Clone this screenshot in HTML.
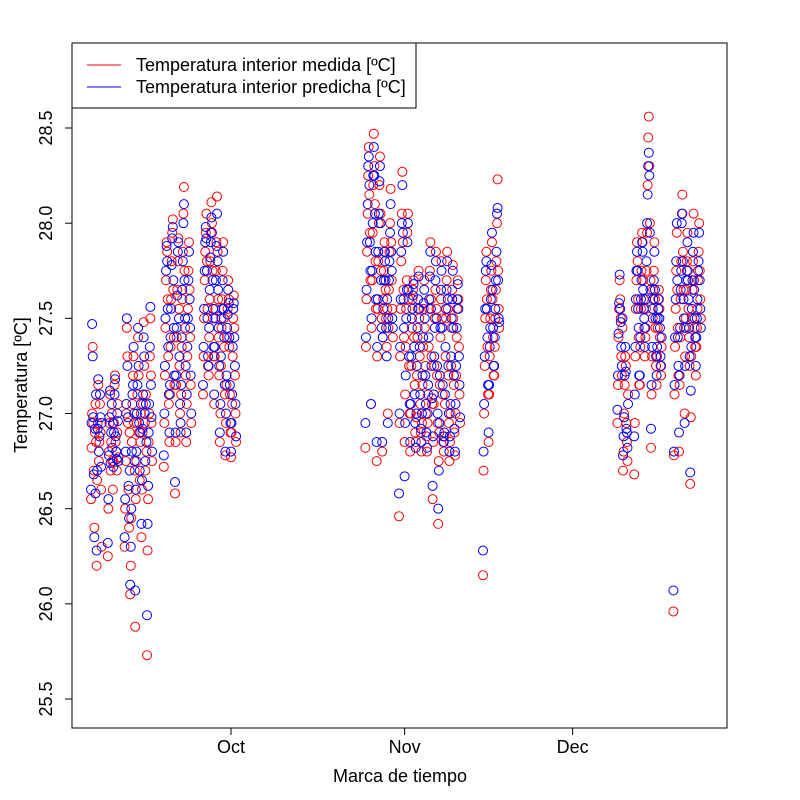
<!DOCTYPE html>
<html><head><meta charset="utf-8"><style>
html,body{margin:0;padding:0;background:#fff;}
svg{display:block;font-family:"Liberation Sans",Arial,sans-serif;}
</style></head><body>
<svg id="chart" width="800" height="800" viewBox="0 0 800 800">
<rect x="72" y="43" width="655" height="685" fill="none" stroke="#000" stroke-width="1"/>
<g id="points"></g>
<g id="axes"></g>
<text x="400" y="782" text-anchor="middle" font-size="18">Marca de tiempo</text>
<text transform="translate(27,385) rotate(-90)" text-anchor="middle" font-size="18">Temperatura [ºC]</text>
<g>
<rect x="72" y="43" width="344" height="65" fill="#fff" stroke="#000" stroke-width="1"/>
<g>
<line x1="87" y1="65" x2="121" y2="65" stroke="#ff0000" stroke-width="1"/>
<text x="136" y="71" font-size="18">Temperatura interior medida [ºC]</text></g>
<g>
<line x1="87" y1="87" x2="121" y2="87" stroke="#0000ff" stroke-width="1"/>
<text x="136" y="93" font-size="18">Temperatura interior predicha [ºC]</text></g>
</g>
</svg>
<script>
// days relative to Oct 1
const days = [-25,-24,-22,-21,-19,-18,-17,-16,-15,-12,-11,-10,-9,-8,-5,-4,-3,-2,-1,0,
24,25,26,27,28,30,31,32,33,34,35,36,37,38,39,40,45,46,47,
69,70,72,73,74,75,76,79,80,81,82,83];
const measured = [
[26.55,26.82,27.00,27.35,26.95,26.70,26.40,26.90,27.05,26.85],
[26.20,26.65,26.95,27.15,26.75,26.85,27.05,26.90,26.60,26.30],
[26.25,26.50,26.80,26.95,27.10,26.70,26.85,27.00,26.75,26.60],
[26.75,26.95,27.15,27.20,26.85,26.80,26.70,26.90,27.05,26.77],
[26.30,26.50,26.75,27.00,27.45,27.30,26.95,26.60,26.40,26.90],
[26.05,26.20,26.45,26.85,27.05,27.20,27.30,26.95,26.70,25.88],
[26.55,26.75,26.95,27.10,27.40,27.20,26.90,26.65,26.85,27.00],
[26.35,26.60,26.90,27.05,27.48,27.25,26.95,26.70,27.10,26.80],
[25.73,26.28,26.55,26.85,27.00,27.30,27.50,27.20,26.95,26.75],
[26.72,26.95,27.20,27.45,27.70,27.90,27.85,27.60,27.30,27.05],
[26.85,27.10,27.35,27.60,27.80,27.95,28.02,27.65,27.40,27.15],
[26.58,26.85,27.15,27.40,27.65,27.80,27.92,27.55,27.25,27.00],
[26.90,27.10,27.35,27.60,27.85,28.05,28.19,27.75,27.45,27.20],
[26.85,27.05,27.30,27.55,27.75,27.90,27.65,27.40,27.15,26.95],
[27.10,27.30,27.50,27.70,27.85,27.95,28.05,27.80,27.55,27.25],
[27.20,27.40,27.60,27.80,27.95,28.11,28.00,27.75,27.50,27.30],
[27.05,27.30,27.55,27.75,27.90,28.14,27.85,27.60,27.40,27.20],
[26.85,27.00,27.25,27.45,27.60,27.75,27.90,27.50,27.35,27.10],
[26.78,26.95,27.15,27.40,27.55,27.70,27.60,27.35,27.10,26.90],
[26.77,26.90,27.05,27.30,27.50,27.62,27.45,27.20,27.00,26.85],
[26.82,27.35,27.60,27.85,28.05,28.25,28.40,28.15,27.95,27.70],
[27.05,27.45,27.70,27.95,28.20,28.47,28.30,28.10,27.80,27.55],
[26.75,27.30,27.55,27.80,28.00,28.20,28.35,28.05,27.75,27.50],
[26.80,27.40,27.60,27.75,27.90,27.85,27.65,27.50,27.35,27.55],
[27.00,27.45,27.65,27.85,28.00,28.18,27.90,27.70,27.55,27.40],
[26.46,26.95,27.30,27.55,27.80,28.05,28.27,27.90,27.65,27.40],
[26.85,27.10,27.35,27.55,27.70,27.95,28.05,27.60,27.25,27.00],
[26.80,27.00,27.25,27.45,27.60,27.65,27.70,27.40,27.15,26.90],
[26.85,26.98,27.20,27.40,27.55,27.75,27.50,27.30,27.05,26.90],
[26.80,26.95,27.15,27.35,27.55,27.70,27.45,27.25,27.00,26.88],
[26.80,26.95,27.10,27.35,27.55,27.75,27.90,27.60,27.30,27.05],
[26.55,26.85,27.05,27.25,27.50,27.65,27.85,27.55,27.20,26.95],
[26.42,26.75,26.90,27.15,27.40,27.60,27.80,27.50,27.10,26.85],
[26.80,26.88,27.05,27.30,27.50,27.70,27.85,27.55,27.20,26.95],
[26.75,26.85,27.00,27.25,27.45,27.65,27.78,27.50,27.15,26.90],
[26.78,27.00,27.20,27.40,27.55,27.70,27.60,27.35,27.10,26.95],
[26.15,26.70,27.00,27.25,27.50,27.70,27.85,27.60,27.35,27.10],
[26.85,27.10,27.30,27.50,27.65,27.75,27.90,27.60,27.40,27.20],
[27.20,27.35,27.50,27.65,27.80,28.00,28.23,27.75,27.55,27.45],
[26.95,27.15,27.40,27.55,27.70,27.60,27.50,27.30,27.20,27.45],
[26.70,26.80,27.00,27.15,27.30,27.25,26.95,26.85,26.75,27.10],
[26.68,26.95,27.30,27.55,27.70,27.90,27.80,27.60,27.40,27.15],
[27.15,27.35,27.55,27.75,27.95,27.90,27.70,27.60,27.45,27.30],
[27.40,27.55,27.75,27.95,28.20,28.45,28.56,28.30,28.00,27.70],
[26.82,27.10,27.30,27.50,27.65,27.75,27.90,27.60,27.45,27.25],
[27.15,27.30,27.45,27.60,27.65,27.55,27.40,27.25,27.20,27.35],
[25.96,26.78,27.10,27.35,27.55,27.75,27.95,27.65,27.45,27.20],
[26.80,27.15,27.40,27.60,27.80,28.05,28.15,27.85,27.65,27.45],
[27.00,27.30,27.50,27.65,27.80,27.95,27.75,27.55,27.40,27.25],
[26.63,26.98,27.30,27.50,27.65,27.80,28.05,27.70,27.45,27.35],
[27.20,27.35,27.45,27.55,27.70,27.85,28.00,27.75,27.60,27.50]];
const predicted = [
[26.60,26.95,27.47,27.30,26.98,26.68,26.35,26.92,26.58,27.10],
[26.28,26.70,26.92,27.18,26.80,26.88,27.10,26.98,26.72,26.95],
[26.32,26.55,26.78,26.98,27.12,26.74,26.90,27.05,26.82,26.95],
[26.72,26.90,27.10,27.18,26.88,26.80,26.76,27.00,26.96,26.75],
[26.35,26.55,26.80,27.05,27.50,27.25,26.98,26.62,26.45,26.70],
[26.10,26.30,26.50,26.80,27.10,27.15,27.35,27.00,26.75,26.07],
[26.60,26.80,27.00,27.15,27.45,27.25,26.95,26.70,26.90,27.05],
[26.42,26.65,26.92,27.10,27.40,27.30,27.00,26.75,27.05,26.85],
[25.94,26.42,26.62,26.90,27.05,27.35,27.56,27.15,26.98,26.80],
[26.78,27.00,27.25,27.50,27.75,27.88,27.80,27.55,27.35,27.10],
[26.90,27.15,27.40,27.55,27.78,27.92,27.98,27.70,27.45,27.20],
[26.64,26.90,27.20,27.45,27.62,27.85,27.90,27.50,27.30,27.05],
[26.95,27.15,27.40,27.65,27.80,28.00,28.10,27.70,27.50,27.25],
[26.90,27.10,27.35,27.50,27.70,27.85,27.60,27.45,27.20,27.00],
[27.15,27.35,27.55,27.75,27.90,27.98,27.92,27.75,27.50,27.30],
[27.25,27.45,27.65,27.82,27.90,28.03,27.95,27.70,27.55,27.35],
[27.10,27.35,27.50,27.70,27.88,28.05,27.80,27.65,27.45,27.25],
[26.90,27.05,27.30,27.50,27.55,27.70,27.85,27.55,27.40,27.15],
[26.80,27.00,27.20,27.45,27.52,27.65,27.58,27.40,27.15,26.95],
[26.80,26.95,27.10,27.35,27.55,27.58,27.40,27.25,27.05,26.88],
[26.95,27.40,27.65,27.90,28.10,28.30,28.35,28.20,27.90,27.75],
[27.05,27.50,27.75,28.00,28.25,28.40,28.25,28.05,27.85,27.60],
[26.85,27.35,27.60,27.85,28.05,28.22,28.30,28.00,27.70,27.45],
[26.85,27.40,27.55,27.70,27.85,27.80,27.70,27.45,27.30,27.60],
[26.95,27.50,27.70,27.80,27.95,28.10,27.85,27.75,27.50,27.45],
[26.58,27.00,27.35,27.60,27.85,28.00,28.20,27.95,27.60,27.45],
[26.67,26.95,27.20,27.50,27.65,27.90,28.00,27.65,27.30,27.05],
[26.85,27.05,27.30,27.50,27.55,27.62,27.68,27.35,27.10,26.95],
[26.82,27.00,27.25,27.45,27.60,27.72,27.55,27.35,27.10,26.92],
[26.85,27.00,27.20,27.40,27.58,27.65,27.50,27.20,27.05,26.90],
[26.82,27.00,27.15,27.40,27.60,27.72,27.85,27.55,27.25,27.08],
[26.62,26.88,27.10,27.30,27.45,27.70,27.80,27.50,27.25,27.00],
[26.50,26.70,26.95,27.20,27.45,27.65,27.75,27.45,27.15,26.88],
[26.85,26.90,27.10,27.35,27.55,27.65,27.80,27.60,27.25,27.00],
[26.80,26.88,27.05,27.30,27.50,27.60,27.75,27.45,27.20,26.92],
[26.80,27.05,27.25,27.45,27.60,27.68,27.55,27.30,27.15,26.98],
[26.28,26.80,27.05,27.30,27.55,27.75,27.80,27.55,27.40,27.15],
[26.90,27.15,27.35,27.45,27.60,27.78,27.95,27.65,27.45,27.25],
[27.25,27.40,27.55,27.70,27.85,28.05,28.08,27.70,27.50,27.48],
[27.02,27.20,27.42,27.58,27.73,27.55,27.48,27.35,27.25,27.50],
[26.78,26.88,26.98,27.20,27.35,27.22,26.92,26.90,26.82,27.05],
[26.88,27.10,27.35,27.60,27.75,27.85,27.75,27.55,27.45,27.20],
[27.20,27.40,27.60,27.70,27.90,27.85,27.65,27.55,27.50,27.35],
[27.45,27.60,27.80,28.00,28.15,28.30,28.37,28.25,27.95,27.65],
[26.92,27.15,27.35,27.55,27.60,27.70,27.85,27.65,27.50,27.30],
[27.20,27.35,27.50,27.55,27.60,27.50,27.45,27.30,27.25,27.40],
[26.07,26.80,27.15,27.40,27.60,27.80,28.00,27.70,27.40,27.25],
[26.90,27.20,27.45,27.65,27.75,28.00,28.05,27.80,27.60,27.50],
[26.95,27.25,27.45,27.70,27.75,27.90,27.70,27.60,27.45,27.30],
[26.69,27.12,27.35,27.55,27.70,27.85,27.95,27.65,27.50,27.40],
[27.25,27.40,27.50,27.60,27.75,27.80,27.95,27.70,27.55,27.45]];
const yTicks = [25.5,26.0,26.5,27.0,27.5,28.0,28.5];
const yTickLabels = ["25.5","26.0","26.5","27.0","27.5","28.0","28.5"];
const xTicks = [0,31,61];
const xTickLabels = ["Oct","Nov","Dec"];

const NS="http://www.w3.org/2000/svg";
function xScale(d){return 231 + d*5.6;}
function yScale(v){return 699 - (v-25.5)*190.33;}
const pts=document.getElementById('points');
function drawSeries(series,color,name){
  const g=document.createElementNS(NS,'g');
  
  
  series.forEach((vals,di)=>{
    vals.forEach((v,i)=>{
      const c=document.createElementNS(NS,'circle');
      c.setAttribute('cx',xScale(days[di]+i/vals.length));
      c.setAttribute('cy',yScale(v));
      c.setAttribute('r',4.5);
      c.setAttribute('fill','none');
      c.setAttribute('stroke',color);
      c.setAttribute('stroke-width',1);
      
      
      g.appendChild(c);
    });
  });
  pts.appendChild(g);
}
drawSeries(measured,'#ff0000','measured-series');
drawSeries(predicted,'#0000ff','predicted-series');

const ax=document.getElementById('axes');
yTicks.forEach((t,i)=>{
  const y=yScale(t);
  const l=document.createElementNS(NS,'line');
  l.setAttribute('x1',65);l.setAttribute('x2',72);l.setAttribute('y1',y);l.setAttribute('y2',y);
  l.setAttribute('stroke','#000');
  
  
  ax.appendChild(l);
  const tx=document.createElementNS(NS,'text');
  tx.setAttribute('transform','translate(52,'+y+') rotate(-90)');
  tx.setAttribute('text-anchor','middle');
  tx.setAttribute('font-size','18');
  tx.textContent=yTickLabels[i];
  
  
  ax.appendChild(tx);
});
xTicks.forEach((t,i)=>{
  const x=xScale(t);
  const l=document.createElementNS(NS,'line');
  l.setAttribute('x1',x);l.setAttribute('x2',x);l.setAttribute('y1',728);l.setAttribute('y2',735);
  l.setAttribute('stroke','#000');
  
  
  ax.appendChild(l);
  const tx=document.createElementNS(NS,'text');
  tx.setAttribute('x',x);tx.setAttribute('y',753);
  tx.setAttribute('text-anchor','middle');
  tx.setAttribute('font-size','18');
  tx.textContent=xTickLabels[i];
  
  
  ax.appendChild(tx);
});
</script>
</body></html>
